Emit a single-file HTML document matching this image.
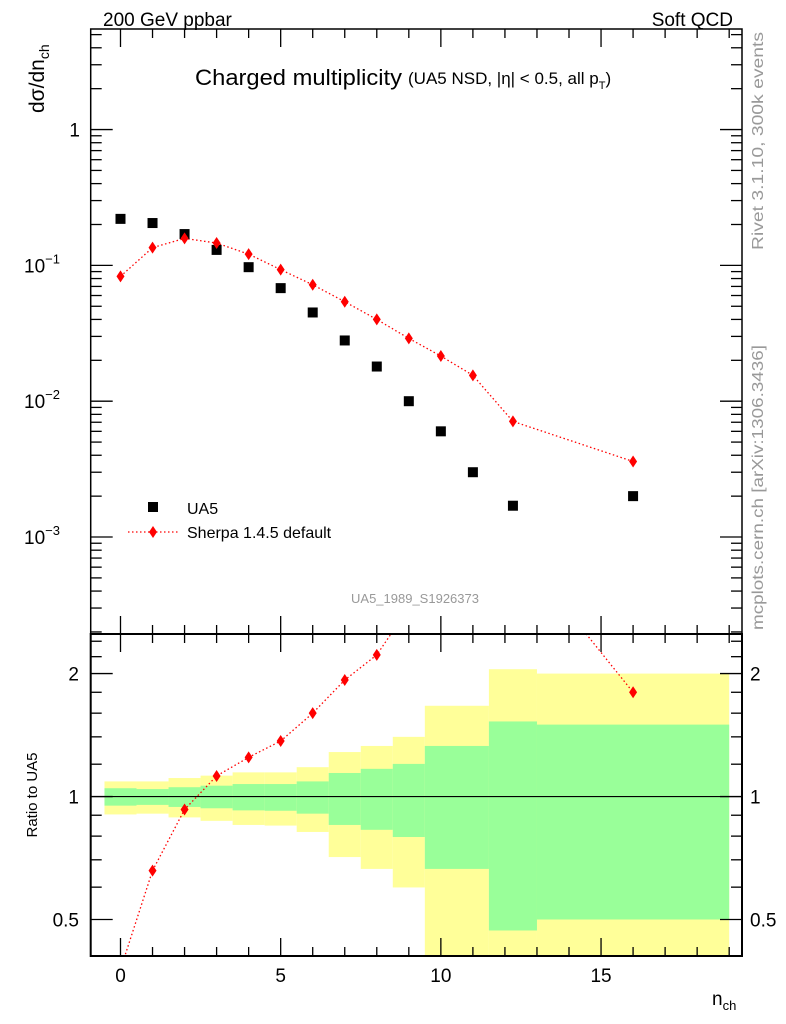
<!DOCTYPE html>
<html><head><meta charset="utf-8">
<style>
html,body{margin:0;padding:0;background:#fff;}
svg{display:block;font-family:"Liberation Sans",sans-serif;}
</style></head>
<body>
<svg id="chart" width="786" height="1024" viewBox="0 0 786 1024" xmlns="http://www.w3.org/2000/svg">
<text x="103" y="26" font-size="19">200 GeV ppbar</text>
<text x="733" y="26" font-size="19" text-anchor="end">Soft QCD</text>
<text x="195" y="85" font-size="22" textLength="207" lengthAdjust="spacingAndGlyphs">Charged multiplicity</text>
<text x="408" y="84" font-size="17">(UA5 NSD, |η| &lt; 0.5, all p<tspan font-size="11" dy="5">T</tspan><tspan dy="-5">)</tspan></text>
<text transform="translate(44,113) rotate(-90)" font-size="21">dσ/dn<tspan font-size="14" dy="5">ch</tspan></text>
<text transform="translate(37,795) rotate(-90)" font-size="15" text-anchor="middle">Ratio to UA5</text>
<text x="712" y="1005" font-size="19">n<tspan font-size="13" dy="5">ch</tspan></text>
<text transform="translate(763,250) rotate(-90)" font-size="16" fill="#999" textLength="218" lengthAdjust="spacingAndGlyphs">Rivet 3.1.10,  300k events</text>
<text transform="translate(763,630) rotate(-90)" font-size="16" fill="#999" textLength="285" lengthAdjust="spacingAndGlyphs">mcplots.cern.ch [arXiv:1306.3436]</text>
<text x="415" y="603" font-size="13" fill="#999" text-anchor="middle">UA5_1989_S1926373</text>
<g id="main"></g>
</svg>
<script>
const nch = [0,1,2,3,4,5,6,7,8,9,10,11,12.25,16];
const ua5 = [0.22,0.205,0.17,0.13,0.097,0.068,0.045,0.028,0.018,0.010,0.006,0.003,0.0017,0.002];
const sherpa = [0.083,0.135,0.158,0.146,0.121,0.093,0.072,0.054,0.040,0.029,0.0215,0.0155,0.0071,0.0036];
const binLo = [-0.5,0.5,1.5,2.5,3.5,4.5,5.5,6.5,7.5,8.5,9.5,11.5,13];
const binHi = [0.5,1.5,2.5,3.5,4.5,5.5,6.5,7.5,8.5,9.5,11.5,13,19];
const yelTop = [1.089,1.089,1.11,1.125,1.146,1.146,1.18,1.285,1.33,1.40,1.668,2.05,2.0];
const yelBot = [0.904,0.908,0.889,0.872,0.852,0.849,0.819,0.711,0.665,0.599,0.3,0.3,0.3];
const grnTop = [1.048,1.043,1.054,1.063,1.073,1.073,1.089,1.142,1.169,1.202,1.33,1.527,1.5];
const grnBot = [0.95,0.954,0.943,0.936,0.925,0.923,0.908,0.852,0.829,0.796,0.665,0.47,0.5];
const topTicks = ["1","10","10","10"];
const topTickExp = [0,-1,-2,-3];
const ratioTicks = [0.5,1,2];
const xTicks = [0,5,10,15];

const NS="http://www.w3.org/2000/svg";
const L=90.7,R=742,T1=29,B1=634,T2=634,B2=956;
const X0=-0.93,X1=19.4;
const sx=v=>L+(v-X0)/(X1-X0)*(R-L);
const Y1a=Math.log10(5.5),Y1b=-3.714;
const sy=v=>T1+(Y1a-Math.log10(v))/(Y1a-Y1b)*(B1-T1);
const R1a=Math.log10(2.5),R1b=Math.log10(0.407);
const sr=v=>T2+(R1a-Math.log10(v))/(R1a-R1b)*(B2-T2);
const g=document.getElementById('main');
function mk(tag,attrs,parent){const e=document.createElementNS(NS,tag);for(const k in attrs)e.setAttribute(k,attrs[k]);(parent||g).appendChild(e);return e;}

const defs=mk('defs',{});
const c1=mk('clipPath',{id:'clipTop'},defs);mk('rect',{x:L,y:T1,width:R-L,height:B1-T1},c1);
const c2=mk('clipPath',{id:'clipBot'},defs);mk('rect',{x:L,y:T2,width:R-L,height:B2-T2},c2);

const bands=mk('g',{'clip-path':'url(#clipBot)'});


for(let i=0;i<binLo.length;i++){
  const y=mk('rect',{x:sx(binLo[i]),y:sr(yelTop[i]),width:sx(binHi[i])-sx(binLo[i]),height:sr(yelBot[i])-sr(yelTop[i]),fill:'#ffff99'},bands);
  
  
}
for(let i=0;i<binLo.length;i++){
  const gr=mk('rect',{x:sx(binLo[i]),y:sr(grnTop[i]),width:sx(binHi[i])-sx(binLo[i]),height:sr(grnBot[i])-sr(grnTop[i]),fill:'#99ff99'},bands);
  
  
}
mk('line',{x1:L,x2:R,y1:sr(1),y2:sr(1),stroke:'#000','stroke-width':1.2});

const tp=mk('g',{'clip-path':'url(#clipTop)'});
let pts=nch.map((n,i)=>sx(n)+','+sy(sherpa[i])).join(' ');
const sl=mk('polyline',{points:pts,fill:'none',stroke:'#f00','stroke-width':1.3,'stroke-dasharray':'1.5,2.5'},tp);


for(let i=0;i<nch.length;i++){
  const s=mk('rect',{x:sx(nch[i])-5,y:sy(ua5[i])-5,width:10,height:10,fill:'#000'},tp);
  
  
}
function diamond(x,y,p){const d=mk('polygon',{points:`${x},${y-6} ${x+4},${y} ${x},${y+6} ${x-4},${y}`,fill:'#f00'},p);return d;}
for(let i=0;i<nch.length;i++){
  const d=diamond(sx(nch[i]),sy(sherpa[i]),tp);
  
  
}
const bp=mk('g',{'clip-path':'url(#clipBot)'});
const ratio=nch.map((n,i)=>sherpa[i]/ua5[i]);
pts=nch.map((n,i)=>sx(n)+','+sr(ratio[i])).join(' ');
const rl=mk('polyline',{points:pts,fill:'none',stroke:'#f00','stroke-width':1.3,'stroke-dasharray':'1.5,2.5'},bp);


for(let i=0;i<nch.length;i++){
  const d=diamond(sx(nch[i]),sr(ratio[i]),bp);
  
  
}

const f1=mk('rect',{x:L,y:T1,width:R-L,height:B1-T1,fill:'none',stroke:'#000','stroke-width':1.5});


const f2=mk('rect',{x:L,y:T2,width:R-L,height:B2-T2,fill:'none',stroke:'#000','stroke-width':2});



const tk=mk('g',{stroke:'#000','stroke-width':1.3});
for(let v=0;v<=19;v+=1){
  const major=(v%5===0);
  const len=major?18:9;
  [[T1,1],[B1,-1],[T2,1],[B2,-1]].forEach(([y,dir])=>{
    mk('line',{x1:sx(v),x2:sx(v),y1:y,y2:y+dir*len},tk);
  });
}
xTicks.forEach(v=>{
  const t=mk('text',{x:sx(v),y:982,'font-size':19,'text-anchor':'middle'});
  t.textContent=v;
  
  
});
for(let e=-4;e<=0;e++){
  for(let m=1;m<=9;m++){
    const v=m*Math.pow(10,e);
    const y=sy(v);
    if(y<T1||y>B1) continue;
    const len=m===1?22:11;
    mk('line',{x1:L,x2:L+len,y1:y,y2:y},tk);
    mk('line',{x1:R,x2:R-len,y1:y,y2:y},tk);
  }
}
topTickExp.forEach((e,i)=>{
  const y=sy(Math.pow(10,e));
  const t=mk('text',{x:80,y:y+7,'font-size':19,'text-anchor':'end'});
  
  
  if(e===0){t.textContent=topTicks[i];}
  else{
    t.setAttribute('x',60);
    t.textContent=topTicks[i];
    const s=mk('tspan',{'font-size':13,dy:-9},t);s.textContent='−'+(-e);
  }
});
[0.4,0.5,0.6,0.7,0.8,0.9,1,2].forEach(v=>{
  const y=sr(v); if(y<T2||y>B2) return;
  const len=(v===0.5||v===1||v===2)?22:11;
  mk('line',{x1:L,x2:L+len,y1:y,y2:y},tk);
  mk('line',{x1:R,x2:R-len,y1:y,y2:y},tk);
});
[1.2,1.4,1.6,1.8,2.2,2.4].forEach(v=>{
  const y=sr(v); if(y<T2||y>B2) return;
  mk('line',{x1:L,x2:L+11,y1:y,y2:y},tk);
  mk('line',{x1:R,x2:R-11,y1:y,y2:y},tk);
});
ratioTicks.forEach(v=>{
  const y=sr(v);
  const t=mk('text',{x:79,y:y+7,'font-size':19,'text-anchor':'end'});
  t.textContent=v===0.5?'0.5':v;
  
  
  const t2=mk('text',{x:750,y:y+7,'font-size':19});
  t2.textContent=v===0.5?'0.5':v;
  
  
});

const lg=mk('g',{});


mk('rect',{x:148,y:502,width:10,height:10,fill:'#000'},lg);
let lt=mk('text',{x:187,y:514,'font-size':16},lg);lt.textContent='UA5';
mk('line',{x1:128,x2:178,y1:532,y2:532,stroke:'#f00','stroke-width':1.3,'stroke-dasharray':'1.5,2.5'},lg);
diamond(153,532,lg);
lt=mk('text',{x:187,y:538,'font-size':16},lg);lt.textContent='Sherpa 1.4.5 default';
</script>
</body></html>
